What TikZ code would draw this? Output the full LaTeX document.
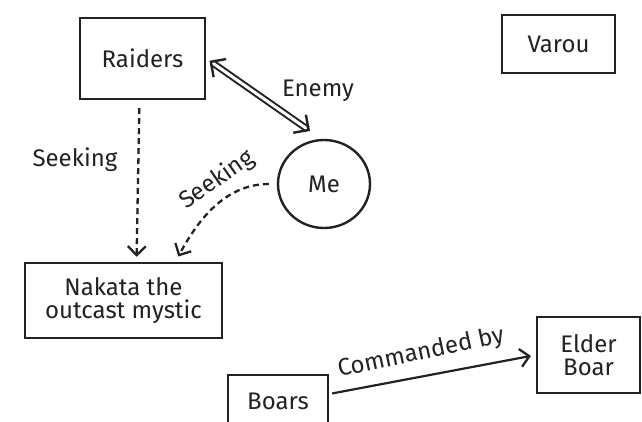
\documentclass[tikz,border=0pt]{standalone}
\usepackage{fontspec}
\setmainfont{Fira Sans}
\usetikzlibrary{arrows.meta,shapes.geometric}
\definecolor{ink}{HTML}{222222}
\tikzset{
  box/.style={draw=ink, line width=2.4pt, rectangle, align=center, inner sep=0pt, font=\fontsize{24}{23}\selectfont, text=ink},
  lbl/.style={font=\fontsize{24}{23}\selectfont, text=ink, inner sep=1pt},
  dashline/.style={draw=ink, line width=2.3pt, dash pattern=on 6pt off 4pt, -{Straight Barb[length=9pt,width=18pt,line width=2.3pt]}},
  solidline/.style={draw=ink, line width=2.2pt, -{Straight Barb[length=9pt,width=18pt,line width=2.3pt]}},
  dblline/.style={draw=ink, line width=2pt, double=white, double distance=3pt, {Straight Barb[length=11pt,width=22pt,line width=2.4pt]}-{Straight Barb[length=11pt,width=22pt,line width=2.4pt]}}
}
\begin{document}
\begin{tikzpicture}[x=1pt,y=-1pt]
\useasboundingbox (0,0) rectangle (642,422);
\begin{scope}
\clip (0,0) rectangle (642,422);
\node[box, minimum width=125pt, minimum height=81pt] (R) at (142.5,58.5) {Raiders};
\node[box, minimum width=113pt, minimum height=58pt] (V) at (558.5,44) {Varou};
\node[box, ellipse, minimum width=92pt, minimum height=88pt] (Me) at (324,184) {Me};
\node[box, minimum width=197pt, minimum height=75pt] (N) at (123.5,300.5) {Nakata the\\outcast mystic};
\node[box, minimum width=100pt, minimum height=52pt] (B) at (278,401) {Boars};
\node[box, minimum width=103pt, minimum height=76pt] (E) at (588.5,355) {Elder\\Boar};
\coordinate (enemyEnd) at (310,131);
\draw[dblline, shorten <=4pt] (R.east) -- (enemyEnd);
\node[lbl] (enemyL) at (318,91) {Enemy};
\draw[dashline, shorten <=8pt, shorten >=5pt] ([xshift=-3pt]R.south) -- ([xshift=13pt]N.north);
\node[lbl] (seek1) at (75,160) {Seeking};
\draw[dashline, shorten <=8pt, shorten >=6pt] (Me.west) to[out=180, in=62] ([xshift=52pt]N.north);
\node[lbl, rotate=35] (seek2) at (217,180) {Seeking};
\draw[solidline, shorten <=3pt, shorten >=5pt] ([yshift=7pt]B.east) -- (E.west);
\node[lbl, rotate=12] (cmd) at (421,353) {Commanded by};
\end{scope}
\end{tikzpicture}
\end{document}
